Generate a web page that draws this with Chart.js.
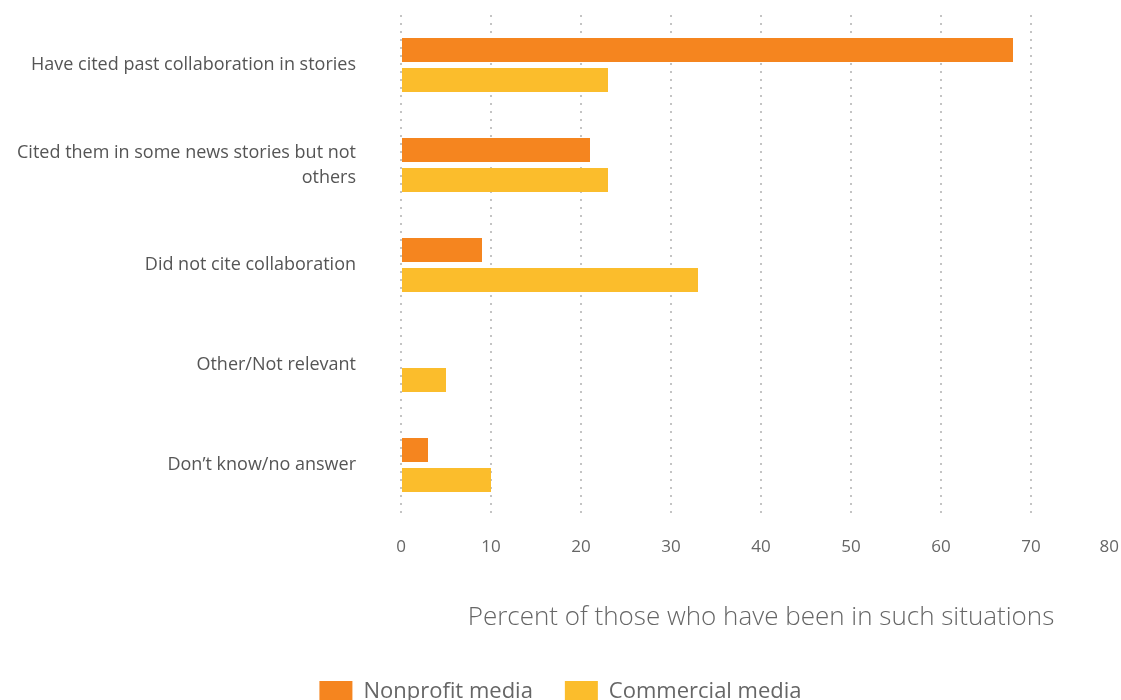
<!DOCTYPE html>
<html>
<head>
<meta charset="utf-8">
<script src="https://cdn.jsdelivr.net/npm/chart.js@4/dist/chart.umd.min.js"></script>
<style>
  html, body { margin: 0; padding: 0; background: #fff; overflow: hidden; }
  #wrap { position: relative; width: 1121px; height: 713px; }
</style>
</head>
<body>
<div id="wrap"><canvas id="chart"></canvas></div>
<script>
// categories (top to bottom)
const categories = [
  'Have cited past collaboration in stories',
  ['Cited them in some news stories but not', 'others'],
  'Did not cite collaboration',
  'Other/Not relevant',
  'Don\u2019t know/no answer'
];
const nonprofit = [68, 21, 9, 0, 3];
const commercial = [23, 23, 33, 5, 10];
const xTicks = [0, 10, 20, 30, 40, 50, 60, 70, 80];
const axisTitle = 'Percent of those who have been in such situations';

Chart.defaults.font.family = '"Open Sans", Lato, sans-serif';

const TICK_PAD = 22;

// last tick label sits inside the canvas in the original, so draw it ourselves
const lastTickLabel = {
  id: 'lastTickLabel',
  afterDraw(chart) {
    const x = chart.scales.x;
    const last = xTicks[xTicks.length - 1];
    const ctx = chart.ctx;
    ctx.save();
    ctx.font = '17px "Open Sans"';
    ctx.fillStyle = '#666';
    ctx.textAlign = 'right';
    ctx.textBaseline = 'middle';
    ctx.fillText(String(last), x.getPixelForValue(last) - 2, chart.chartArea.bottom + TICK_PAD + 10);
    ctx.restore();
  }
};

new Chart(document.getElementById('chart'), {
  type: 'bar',
  data: {
    labels: categories,
    datasets: [
      {
        label: 'Nonprofit media',
        data: nonprofit,
        backgroundColor: '#F5851F',
        barPercentage: 0.8,
        categoryPercentage: 0.6
      },
      {
        label: 'Commercial media',
        data: commercial,
        backgroundColor: '#FBBD2C',
        barPercentage: 0.8,
        categoryPercentage: 0.6
      }
    ]
  },
  options: {
    indexAxis: 'y',
    responsive: true,
    maintainAspectRatio: false,
    animation: false,
    layout: { padding: { top: 15, left: 0, right: 0, bottom: 0 } },
    plugins: {
      tooltip: { enabled: false },
      legend: {
        position: 'bottom',
        labels: {
          boxWidth: 33,
          boxHeight: 22,
          padding: 32,
          color: '#666',
          font: { size: 22 }
        }
      }
    },
    scales: {
      x: {
        min: 0,
        max: 80,
        afterBuildTicks(scale) {
          scale.ticks = xTicks.map(v => ({ value: v }));
        },
        afterFit(scale) {
          scale.height = 134;
          scale.paddingLeft = 0;
          scale.paddingRight = 0;
        },
        grid: {
          color: (c) => c.tick && c.tick.value === 80 ? 'rgba(0,0,0,0)' : '#c4c4c4',
          lineWidth: 2,
          drawTicks: false
        },
        border: { display: false, dash: [2, 6] },
        ticks: {
          padding: TICK_PAD,
          color: '#666',
          font: { size: 17 },
          callback: (v) => v === 80 ? '' : v
        },
        title: {
          display: true,
          text: axisTitle,
          color: '#666',
          font: { size: 26, weight: 300 },
          padding: { top: 0, bottom: 16 }
        }
      },
      y: {
        afterFit(scale) {
          scale.width = 401;
          scale.paddingTop = 0;
          scale.paddingBottom = 0;
        },
        grid: { display: false, drawTicks: false },
        border: { display: false },
        ticks: {
          padding: 45,
          color: '#555',
          font: { size: 18, lineHeight: 1.4 }
        }
      }
    }
  },
  plugins: [lastTickLabel]
});
</script>
</body>
</html>
